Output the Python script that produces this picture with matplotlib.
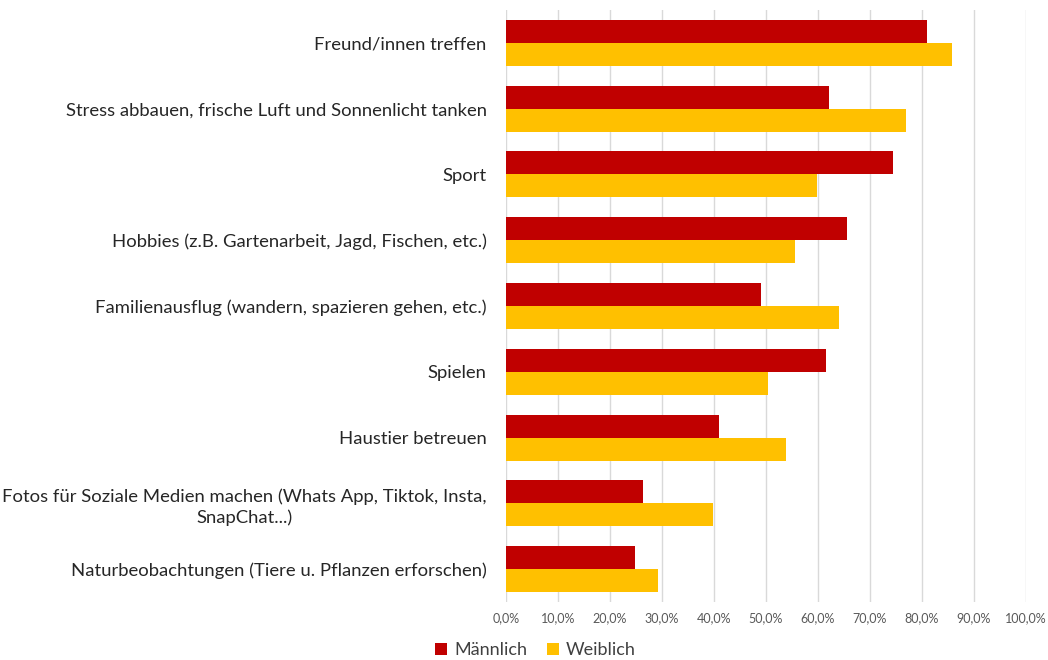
import matplotlib
matplotlib.use("Agg")
import matplotlib.pyplot as plt
import numpy as np
from matplotlib.ticker import FuncFormatter
from matplotlib.patches import Patch

categories = [
    "Freund/innen treffen",
    "Stress abbauen, frische Luft und Sonnenlicht tanken",
    "Sport",
    "Hobbies (z.B. Gartenarbeit, Jagd, Fischen, etc.)",
    "Familienausflug (wandern, spazieren gehen, etc.)",
    "Spielen",
    "Haustier betreuen",
    "Fotos für Soziale Medien machen (Whats App, Tiktok, Insta,\nSnapChat...)",
    "Naturbeobachtungen (Tiere u. Pflanzen erforschen)",
]
maennlich = [81.0, 62.2, 74.4, 65.6, 49.0, 61.5, 41.0, 26.4, 24.8]
weiblich = [85.8, 76.9, 59.8, 55.5, 64.0, 50.4, 53.9, 39.8, 29.3]
series_names = ["Männlich", "Weiblich"]
colors = ["#C00000", "#FFC000"]

plt.rcParams['font.family'] = ['Lato', 'DejaVu Sans']

fig = plt.figure(figsize=(10.48, 6.6), dpi=100)
ax = fig.add_axes([0.4828, 0.0879, 0.4962, 0.8970])

y = np.arange(len(categories))
h = 0.35
ax.barh(y - h / 2, maennlich, height=h, color=colors[0], zorder=3)
ax.barh(y + h / 2, weiblich, height=h, color=colors[1], zorder=3)

ax.set_xlim(0, 100)
ax.set_ylim(len(categories) - 0.5, -0.5)
ax.set_xticks(np.arange(0, 101, 10))
ax.xaxis.set_major_formatter(FuncFormatter(lambda v, p: f"{v:.1f}%".replace(".", ",")))
ax.set_yticks(y)
ax.set_yticklabels(categories, fontsize=13.3, color="#262626", multialignment="center",
                   linespacing=1.35)
ax.tick_params(axis="y", length=0, pad=14)
ax.tick_params(axis="x", length=0, pad=7, labelsize=9, labelcolor="#595959")
ax.grid(axis="x", color="#D9D9D9", linewidth=1, zorder=0)
for s in ax.spines.values():
    s.set_visible(False)

handles = [Patch(facecolor=c, label=n) for c, n in zip(colors, series_names)]
fig.legend(handles=handles, loc="center", bbox_to_anchor=(0.511, 0.015), ncol=2,
           frameon=False, fontsize=13, handlelength=0.65, handleheight=0.65,
           handletextpad=0.4, columnspacing=1.1, labelcolor="#404040")

fig.savefig("out.png", dpi=100)
